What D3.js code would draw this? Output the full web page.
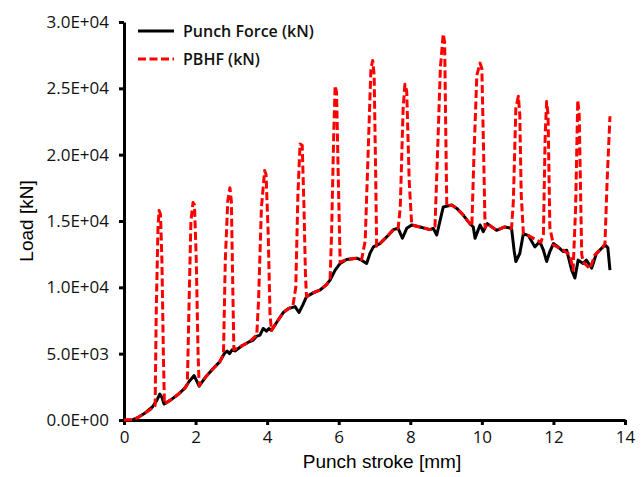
<!DOCTYPE html>
<html>
<head>
<meta charset="utf-8">
<script src="https://cdn.jsdelivr.net/npm/d3@7"></script>
<style>
  body { margin: 0; background: #fff; }
  svg { display: block; }
</style>
</head>
<body>
<svg id="chart"></svg>
<script>
// Punch Force (kN): [stroke mm, load kN]
const punchForce = [
  [0, 0], [0.25, 20], [0.4, 200], [0.6, 550], [0.8, 1000], [0.92, 1500], [1.0, 1950],
  [1.06, 1700], [1.12, 1200], [1.3, 1500], [1.5, 1900], [1.7, 2400], [1.82, 2900],
  [1.96, 3350], [2.04, 2900], [2.1, 2550], [2.3, 3300], [2.5, 3900], [2.68, 4400],
  [2.8, 5000], [2.88, 5200], [2.95, 5000], [3.02, 5300], [3.1, 5200], [3.3, 5600],
  [3.5, 5900], [3.6, 6000], [3.7, 6300], [3.8, 6400], [3.89, 6900], [3.98, 6700],
  [4.05, 6900], [4.12, 6750], [4.3, 7500], [4.45, 8100], [4.6, 8400], [4.78, 8550],
  [4.89, 8100], [5.0, 8700], [5.1, 9300], [5.3, 9600], [5.48, 9800], [5.66, 10200],
  [5.76, 10550], [5.9, 11300], [6.04, 11800], [6.22, 12100], [6.5, 12200], [6.64, 12050],
  [6.78, 11800], [6.88, 12600], [6.97, 13050], [7.15, 13300], [7.34, 13800], [7.53, 14350],
  [7.66, 14450], [7.78, 13700], [7.9, 14450], [8.04, 14700], [8.27, 14550], [8.55, 14350],
  [8.64, 14450], [8.74, 13950], [8.83, 15000], [8.92, 16050], [9.16, 16200], [9.3, 15950],
  [9.48, 15450], [9.62, 14950], [9.76, 14550], [9.81, 13700], [9.88, 14200], [9.95, 14700],
  [10.04, 14200], [10.15, 14800], [10.41, 14300], [10.64, 14550], [10.83, 14450],
  [10.9, 12800], [10.95, 11950], [11.06, 12550], [11.16, 14050], [11.3, 13900],
  [11.48, 13050], [11.62, 13450], [11.72, 12800], [11.81, 11950], [11.9, 12700],
  [12.0, 13300], [12.13, 13050], [12.27, 12700], [12.37, 12800], [12.51, 11300],
  [12.6, 10700], [12.69, 12050], [12.83, 11800], [12.92, 12050], [13.07, 11450],
  [13.2, 12550], [13.44, 13200], [13.52, 13000], [13.58, 11300]
];

// PBHF (kN): [stroke mm, load kN]
const pbhf = [
  [0, 0], [0.25, 20], [0.4, 200], [0.6, 550], [0.8, 900], [0.87, 1100], [0.9, 8000],
  [0.95, 14500], [0.98, 15800], [1.02, 15500], [1.06, 12000], [1.1, 5000], [1.13, 1200],
  [1.3, 1500], [1.5, 1900], [1.7, 2400], [1.77, 2700], [1.82, 9000], [1.87, 15000],
  [1.93, 16400], [1.97, 16200], [2.02, 12000], [2.07, 5000], [2.1, 2600], [2.3, 3300],
  [2.5, 3900], [2.68, 4400], [2.78, 5000], [2.83, 12000], [2.9, 16500], [2.96, 17500],
  [3.0, 16500], [3.04, 10000], [3.07, 5300], [3.3, 5600], [3.5, 5900], [3.71, 6400],
  [3.76, 9000], [3.84, 16000], [3.93, 18800], [3.97, 18500], [4.03, 14000], [4.08, 8000],
  [4.12, 6750], [4.3, 7500], [4.45, 8100], [4.6, 8400], [4.72, 8600], [4.8, 10000],
  [4.86, 17000], [4.92, 20800], [4.98, 20700], [5.03, 16000], [5.07, 11000], [5.1, 9300],
  [5.3, 9600], [5.48, 9800], [5.66, 10200], [5.76, 10700], [5.8, 14000], [5.86, 21500],
  [5.9, 25200], [5.94, 24700], [5.99, 18000], [6.04, 11900], [6.22, 12100], [6.5, 12200],
  [6.64, 12100], [6.74, 13500], [6.82, 20000], [6.9, 26500], [6.95, 27100], [6.99, 26000],
  [7.03, 19000], [7.06, 13100], [7.15, 13300], [7.34, 13800], [7.53, 14350], [7.66, 14450],
  [7.72, 16000], [7.8, 23500], [7.85, 25300], [7.9, 24800], [7.97, 18000], [8.04, 14700],
  [8.27, 14550], [8.55, 14350], [8.69, 14600], [8.76, 20000], [8.84, 26500], [8.92, 29100],
  [8.96, 28500], [8.99, 22000], [9.02, 16100], [9.16, 16200], [9.3, 15950], [9.48, 15450],
  [9.62, 14950], [9.72, 14600], [9.78, 20000], [9.86, 26000], [9.95, 26900], [10.0, 26500],
  [10.05, 20000], [10.09, 14500], [10.15, 14800], [10.41, 14300], [10.64, 14550],
  [10.83, 14450], [10.88, 16500], [10.95, 23500], [11.02, 24400], [11.06, 23000],
  [11.1, 17000], [11.16, 14050], [11.3, 13900], [11.53, 13570], [11.65, 13400],
  [11.72, 14000], [11.77, 21500], [11.81, 24000], [11.85, 23000], [11.9, 14500],
  [12.0, 13200], [12.27, 12800], [12.46, 12450], [12.55, 11300], [12.62, 16000],
  [12.68, 24100], [12.72, 23000], [12.79, 12500], [12.83, 11900], [13.02, 11400],
  [13.16, 12450], [13.39, 13050], [13.44, 13300], [13.5, 18000], [13.58, 22900]
];

const xTicks = [0, 2, 4, 6, 8, 10, 12, 14];
const yTicks = [0, 5000, 10000, 15000, 20000, 25000, 30000];
const yTickLabels = ["0.0E+00", "5.0E+03", "1.0E+04", "1.5E+04", "2.0E+04", "2.5E+04", "3.0E+04"];
const seriesNames = ["Punch Force (kN)", "PBHF (kN)"];

const width = 643;
const height = 477;
const marginLeft = 124;
const marginTop = 22;
const plotW = 501;
const plotH = 398;

let svg = d3.select("#chart")
    .attr("width", width)
    .attr("height", height);

let scaleX = d3.scaleLinear().domain([0, 14]).range([marginLeft, marginLeft + plotW]);
let scaleY = d3.scaleLinear().domain([0, 30000]).range([marginTop + plotH, marginTop]);

// оси
let axisX = d3.axisBottom(scaleX).tickValues(xTicks).tickSize(5).tickSizeOuter(0).tickPadding(6);
let axisY = d3.axisLeft(scaleY).tickValues(yTicks).tickSize(5).tickSizeOuter(0).tickPadding(10)
    .tickFormat((d, i) => yTickLabels[i]);

let gx = svg.append("g")
    .attr("transform", `translate(0, ${marginTop + plotH})`)
    .call(axisX);
let gy = svg.append("g")
    .attr("transform", `translate(${marginLeft}, 0)`)
    .call(axisY);

[gx, gy].forEach(g => {
    g.select(".domain").attr("stroke", "#000").attr("stroke-width", 3);
    g.selectAll(".tick line").attr("stroke", "#000").attr("stroke-width", 3);
    g.selectAll(".tick text")
        .attr("fill", "#111")
        .style("font-family", "'Open Sans', sans-serif")
        .style("font-size", "17px");
});

// линии
let line = d3.line()
    .x(d => scaleX(d[0]))
    .y(d => scaleY(d[1]));

svg.append("path")
    .datum(punchForce)
    .attr("d", line)
    .attr("fill", "none")
    .attr("stroke", "#000")
    .attr("stroke-width", 3)
    .attr("stroke-linejoin", "round");

svg.append("path")
    .datum(pbhf)
    .attr("d", line)
    .attr("fill", "none")
    .attr("stroke", "#ff0000")
    .attr("stroke-width", 3)
    .attr("stroke-dasharray", "8,3.5")
    .attr("stroke-linejoin", "round");

// подписи осей
svg.append("text")
    .attr("x", 382)
    .attr("y", 468)
    .attr("text-anchor", "middle")
    .style("font-family", "'Liberation Sans', Arial, sans-serif")
    .style("font-size", "19px")
    .text("Punch stroke [mm]");

svg.append("text")
    .attr("transform", "translate(33, 221) rotate(-90)")
    .attr("text-anchor", "middle")
    .style("font-family", "'Liberation Sans', Arial, sans-serif")
    .style("font-size", "19px")
    .text("Load [kN]");

// легенда
let legend = svg.append("g");
const legendStyles = [
    { color: "#000", dash: null },
    { color: "#ff0000", dash: "8,3.5" }
];
seriesNames.forEach((name, i) => {
    let y = 31 + i * 28;
    legend.append("line")
        .attr("x1", 138).attr("x2", 174)
        .attr("y1", y).attr("y2", y)
        .attr("stroke", legendStyles[i].color)
        .attr("stroke-width", 3)
        .attr("stroke-dasharray", legendStyles[i].dash);
    legend.append("text")
        .attr("x", 183)
        .attr("y", y + 6)
        .style("font-family", "'Open Sans', sans-serif")
        .style("font-size", "16px")
        .style("font-weight", 600)
        .attr("fill", "#111")
        .text(name);
});
</script>
</body>
</html>
